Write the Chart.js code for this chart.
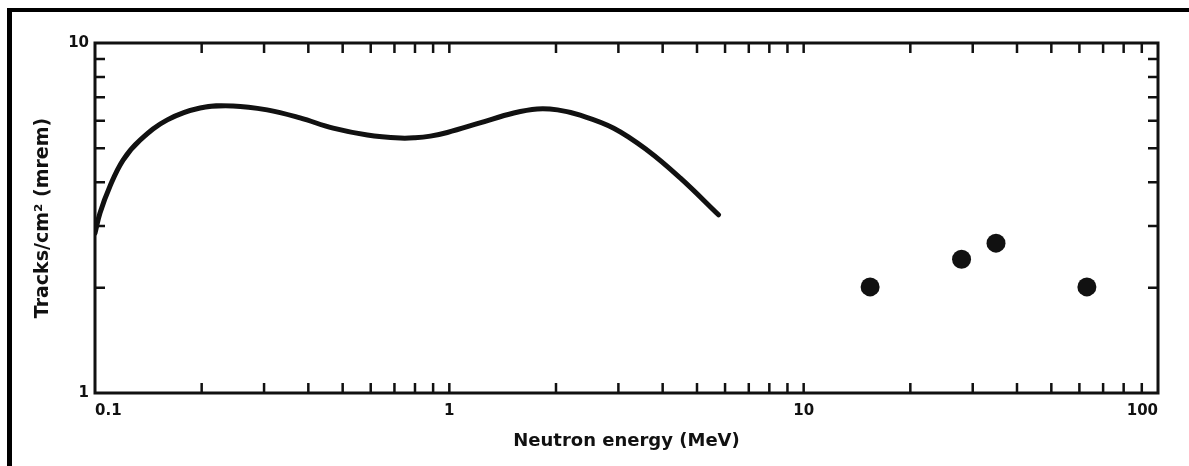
<!DOCTYPE html>
<html>
<head>
<meta charset="utf-8">
<script src="https://cdn.jsdelivr.net/npm/chart.js@4/dist/chart.umd.min.js"></script>
<style>
  html, body { margin: 0; padding: 0; background: #fff; overflow: hidden; }
  #wrap { position: relative; width: 1189px; height: 466px; }
  #frame {
    position: absolute; left: 7px; top: 8px; right: -10px; bottom: -10px;
    border-top: 4px solid #000; border-left: 5px solid #000;
    pointer-events: none;
  }
</style>
</head>
<body>
<div id="wrap">
  <canvas id="chart"></canvas>
  <div id="frame"></div>
</div>
<script>
// Response curve
const energy = [0.1, 0.1033, 0.11, 0.12, 0.134, 0.16, 0.198, 0.245, 0.306, 0.379, 0.47, 0.587,
                0.727, 0.8, 0.884, 0.987, 1.22, 1.52, 1.77, 2.02, 2.34, 2.91, 3.62, 4.49, 5.75];
const tracks = [2.86, 3.27, 3.88, 4.63, 5.28, 6.03, 6.52, 6.61, 6.44, 6.11, 5.71, 5.46,
                5.35, 5.36, 5.42, 5.55, 5.91, 6.31, 6.48, 6.44, 6.22, 5.71, 4.94, 4.11, 3.23];

// High energy measurements
const pointEnergy = [15.4, 27.9, 34.9, 63.0];
const pointTracks = [2.01, 2.41, 2.68, 2.01];

// Labelled ticks
const xLabels = [0.1, 1, 10, 100];
const yLabels = [1, 10];

// Tick marks (drawn inward on all four sides)
const xMarks = [0.2, 0.3, 0.4, 0.5, 0.6, 0.7, 0.8, 0.9, 1, 2, 3, 4, 5, 6, 7, 8, 9, 10,
                20, 30, 40, 50, 60, 70, 80, 90];
const yMarks = [2, 3, 4, 5, 6, 7, 8, 9];

const font = 'DejaVu Sans';

// draws the box round the plot and the inward tick marks
const boxTicks = {
    id: 'boxTicks',
    afterDraw(chart) {
        const { ctx, chartArea: a, scales: { x, y } } = chart;
        const len = 10;
        ctx.save();
        ctx.strokeStyle = '#111';
        ctx.lineWidth = 3;
        ctx.strokeRect(a.left, a.top, a.right - a.left, a.bottom - a.top);
        ctx.lineWidth = 2.5;
        ctx.beginPath();
        xMarks.forEach(v => {
            const px = x.getPixelForValue(v);
            ctx.moveTo(px, a.bottom); ctx.lineTo(px, a.bottom - len);
            ctx.moveTo(px, a.top); ctx.lineTo(px, a.top + len);
        });
        yMarks.forEach(v => {
            const py = y.getPixelForValue(v);
            ctx.moveTo(a.left, py); ctx.lineTo(a.left + len, py);
            ctx.moveTo(a.right, py); ctx.lineTo(a.right - len, py);
        });
        ctx.stroke();
        ctx.restore();
    }
};

new Chart(document.getElementById('chart'), {
    type: 'scatter',
    data: {
        datasets: [
            {
                data: energy.map((e, i) => ({ x: e, y: tracks[i] })),
                showLine: true,
                borderColor: '#111',
                borderWidth: 5,
                borderCapStyle: 'round',
                borderJoinStyle: 'round',
                tension: 0.4,
                pointRadius: 0
            },
            {
                data: pointEnergy.map((e, i) => ({ x: e, y: pointTracks[i] })),
                backgroundColor: '#111',
                borderWidth: 0,
                pointRadius: 9.5
            }
        ]
    },
    options: {
        responsive: true,
        maintainAspectRatio: false,
        animation: false,
        layout: { padding: { left: 0, top: 43, right: 31, bottom: 0 } },
        plugins: { legend: { display: false }, tooltip: { enabled: false } },
        scales: {
            x: {
                type: 'logarithmic',
                min: 0.1,
                max: 100,
                afterBuildTicks: s => { s.ticks = xLabels.map(v => ({ value: v })); },
                afterFit: s => { s.height = 73; },
                grid: { display: false, drawTicks: false },
                border: { display: false },
                ticks: {
                    align: 'inner',
                    padding: 9,
                    color: '#111',
                    font: { family: font, size: 15, weight: 'bold' },
                    callback: v => String(v)
                },
                title: {
                    display: true,
                    text: 'Neutron energy (MeV)',
                    color: '#111',
                    padding: { top: 0, bottom: 14 },
                    font: { family: font, size: 18, weight: 'bold' }
                }
            },
            y: {
                type: 'logarithmic',
                min: 1,
                max: 10,
                afterBuildTicks: s => { s.ticks = yLabels.map(v => ({ value: v })); },
                afterFit: s => { s.width = 95; },
                grid: { display: false, drawTicks: false },
                border: { display: false },
                ticks: {
                    padding: 6,
                    color: '#111',
                    font: { family: font, size: 15, weight: 'bold' },
                    callback: v => String(v)
                },
                title: {
                    display: true,
                    text: 'Tracks/cm² (mrem)',
                    color: '#111',
                    padding: { top: 32, bottom: 0 },
                    font: { family: font, size: 19, weight: 'bold' }
                }
            }
        }
    },
    plugins: [boxTicks]
});
</script>
</body>
</html>
